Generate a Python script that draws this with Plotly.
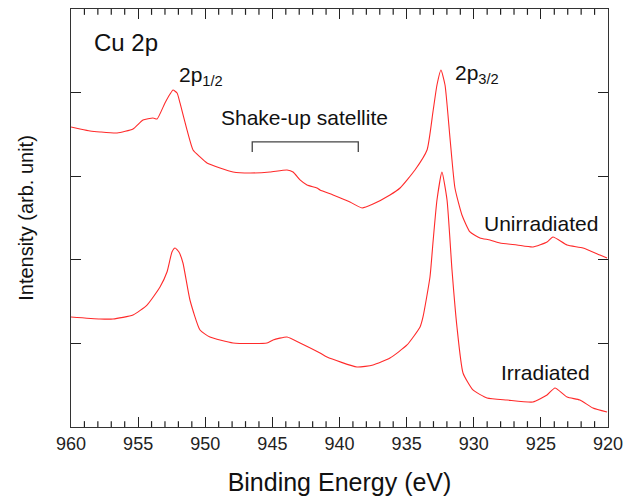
import plotly.graph_objects as go

# Binding energy (eV) and intensity (arb. units)
unirr_energy = [960.0, 959.33, 958.58, 957.84, 956.57, 955.38, 954.64, 953.89, 953.59, 953.0,
                952.62, 952.40, 952.1, 951.88, 951.36, 950.91, 950.39, 949.87, 948.90, 947.93,
                946.67, 945.18, 943.91, 943.46, 942.94, 942.42, 941.68, 941.45, 940.48, 939.22,
                938.32, 937.50, 936.24, 935.49, 934.38, 933.48, 933.04, 932.74, 932.44, 932.14,
                931.77, 931.40, 930.88, 930.28, 929.54, 928.79, 928.05, 926.78, 925.59, 924.54,
                924.10, 923.05, 921.86, 920.60, 920.07]
unirr_intensity = [3.589, 3.565, 3.541, 3.529, 3.517, 3.565, 3.672, 3.696, 3.684, 3.876,
                   3.983, 4.031, 3.995, 3.876, 3.553, 3.313, 3.230, 3.158, 3.098, 3.050,
                   3.038, 3.050, 3.074, 3.050, 2.955, 2.895, 2.859, 2.835, 2.775, 2.691,
                   2.620, 2.667, 2.775, 2.859, 3.074, 3.313, 3.768, 4.091, 4.270, 4.091,
                   3.457, 2.859, 2.536, 2.333, 2.261, 2.237, 2.201, 2.177, 2.153, 2.213,
                   2.273, 2.177, 2.141, 2.057, 2.022]

irr_energy = [960.0, 957.84, 956.87, 955.38, 954.34, 953.37, 952.85, 952.48, 952.25, 951.96,
              951.66, 951.14, 950.39, 949.65, 947.93, 945.40, 944.95, 943.91, 942.94, 941.45,
              940.93, 938.70, 937.50, 936.24, 934.97, 934.00, 933.78, 933.26, 933.04, 932.74,
              932.37, 931.99, 931.62, 931.25, 930.80, 930.06, 929.01, 927.52, 925.59, 924.54,
              923.95, 923.05, 922.09, 921.12, 920.07]
irr_intensity = [1.316, 1.292, 1.292, 1.340, 1.459, 1.675, 1.854, 2.093, 2.141, 2.093,
                 1.962, 1.519, 1.160, 1.077, 1.005, 1.005, 1.041, 1.077, 1.005, 0.885,
                 0.837, 0.718, 0.742, 0.825, 0.981, 1.196, 1.316, 1.794, 2.201, 2.715,
                 3.050, 2.715, 1.878, 1.196, 0.646, 0.443, 0.347, 0.323, 0.299, 0.383,
                 0.467, 0.359, 0.323, 0.227, 0.179]

bracket_energy = [946.5, 946.5, 938.6, 938.6]
bracket_level = [3.29, 3.41, 3.41, 3.29]

minor_tick_energies = [v for v in range(921, 960) if v % 5 != 0]

FONT = "Liberation Sans, Arial, sans-serif"
AXC = "#333333"
RED = "#ff2a2a"
Y_MIN, Y_MAX = 0, 5
MINOR_LEN_FRAC = 0.07  # minor tick length as fraction of one y unit

fig = go.Figure()
fig.add_trace(go.Scatter(x=unirr_energy, y=unirr_intensity, mode="lines",
                         line=dict(color=RED, width=1.1, shape="spline", smoothing=0.5),
                         showlegend=False))
fig.add_trace(go.Scatter(x=irr_energy, y=irr_intensity, mode="lines",
                         line=dict(color=RED, width=1.1, shape="spline", smoothing=0.5),
                         showlegend=False))
fig.add_trace(go.Scatter(x=bracket_energy, y=bracket_level, mode="lines",
                         line=dict(color="#444444", width=1.3), showlegend=False))

# 1 eV minor ticks (inside, bottom and top) drawn as short line segments
mx, my = [], []
for v in minor_tick_energies:
    mx += [v, v, None, v, v, None]
    my += [Y_MIN, Y_MIN + MINOR_LEN_FRAC, None, Y_MAX, Y_MAX - MINOR_LEN_FRAC, None]
fig.add_trace(go.Scatter(x=mx, y=my, mode="lines", connectgaps=False,
                         line=dict(color="#222222", width=1.2),
                         hoverinfo="skip", showlegend=False, cliponaxis=False))

anns = [
    dict(x=958.44, y=4.605, text="Cu 2p", xanchor="left", size=24),
    dict(x=952.10, y=4.20, text="2p<sub>1/2</sub>", xanchor="left", size=21),
    dict(x=931.55, y=4.22, text="2p<sub>3/2</sub>", xanchor="left", size=21),
    dict(x=942.64, y=3.70, text="Shake-up satellite", xanchor="center", size=21),
    dict(x=920.60, y=2.44, text="Unirradiated", xanchor="right", size=21),
    dict(x=921.19, y=0.646, text="Irradiated", xanchor="right", size=21),
]
for a in anns:
    fig.add_annotation(x=a["x"], y=a["y"], text=a["text"], xanchor=a["xanchor"],
                       yanchor="middle", showarrow=False,
                       font=dict(family=FONT, size=a["size"], color="#111111"))

fig.update_layout(
    width=623, height=498,
    margin=dict(l=71, r=15, t=9, b=71),
    paper_bgcolor="white", plot_bgcolor="white",
    font=dict(family=FONT, color="#111111"),
    xaxis=dict(
        range=[960, 920], dtick=5, tick0=960, automargin=False,
        ticks="inside", ticklen=10, tickwidth=1.3, tickcolor="#222222",
        showline=True, linecolor=AXC, linewidth=1.3, mirror="ticks",
        showgrid=False, zeroline=False, ticklabeloverflow="allow",
        tickfont=dict(family=FONT, size=18, color="#222222"),
        title=dict(text="Binding Energy (eV)", font=dict(family=FONT, size=25, color="#111111"),
                   standoff=20),
    ),
    yaxis=dict(
        range=[Y_MIN, Y_MAX], dtick=1, tick0=0, automargin=False,
        ticks="inside", ticklen=10, tickwidth=1.3, tickcolor="#222222",
        showticklabels=False,
        showline=True, linecolor=AXC, linewidth=1.3, mirror="ticks",
        showgrid=False, zeroline=False,
        title=dict(text="Intensity (arb. unit)", font=dict(family=FONT, size=20, color="#111111"),
                   standoff=30),
    ),
)

fig.write_html("out.html")
